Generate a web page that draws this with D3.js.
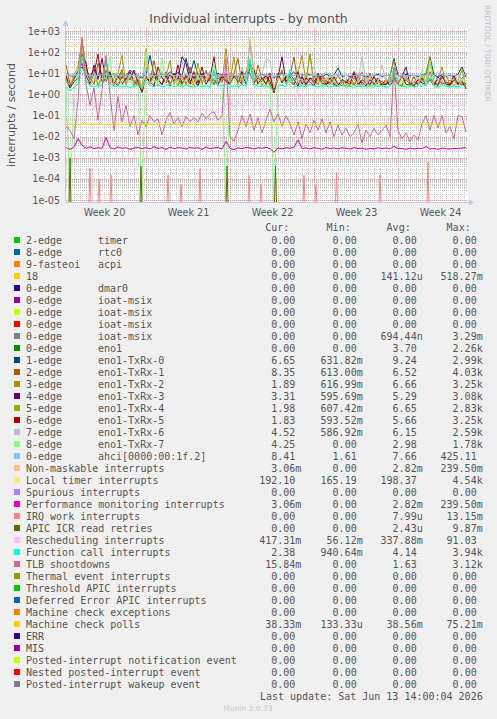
<!DOCTYPE html>
<html><head><meta charset="utf-8">
<script src="https://cdn.jsdelivr.net/npm/d3@7"></script>
<style>
html,body{margin:0;padding:0;background:#f0f0f0;}
svg{display:block;}
</style></head><body>
<svg id="chart" width="497" height="719"></svg>
<script>
// ---------- DATA (8-hour steps from 2026-05-11 08:00 UTC) ----------
const startUTC = Date.UTC(2026, 4, 11, 8);
const stepHours = 8;

const tx0 = [7.5,8,6.5,12,20,8,7,15,7,8.5, 12,7,10,6.5,9,7.5,14,10,7,6, 9,70,8,7.5,10,7,12,8,11,7.5,
  50,9,40,8,7,12,7,8,10,7.5, 9,7,8.5,6.5,12,7,20,8,7.5,9, 7,10,6,8.5,10,7,8,12,7,8.5,
  7.5,9,7,8,6.5,9,7.5,8,18,7, 8,7,9,7.5,8,6.5,8,7.5,9,7, 8,7.5,50,8,7,9,7.5,8,7,8.5,
  9,60,8,7,8.5,7.5,8,7,9,20, 6.65];
const tx1 = [25,3,5,12,100,15,6,3,30,8, 4,10,2.5,6,15,3,8,2.8,5,1.5, 6,4,40,5,2.8,12,3,7,2.5,9,
  3,20,5,2.5,8,3,12,2.8,6,4, 8,3,10,50,3,7,30,2.8,25,5, 9,2.5,1.2,6,12,3.5,8,60,3,7,
  2.5,6,5,3,9,4,3,6,3.5,2.5, 5,4,2.8,7,3,3.5,10,3,5,4, 3,6,8,3,2.5,5,3,7,2.8,5,
  3,12,3.5,2.5,6,8,3,4.5,2.8,6, 8.35];
const tx2 = [6,2,8,20,400,20,5,12,2.5,8, 15,3,6,10,70,3,9,2.5,5,1.5, 8,3,12,5,3,7,40,3,9,2.5,
  6,10,2.5,8,3,14,4,3,9,3.5, 150,4,60,3,10,4,300,12,3,6, 3,9,1.5,5,15,3,7,3,10,70,
  4,80,3,5,8,3,6,2.5,9,3, 2.5,7,3,4,12,3,2.5,6,4,3, 2.8,8,40,3,2.5,6,4,2.8,5,4,
  9,60,3,5,20,3,2.5,7,3,5, 1.89];
const tx3 = [4,2.5,6,12,30,8,3,25,5,50, 5,9,4,2.5,7,5,12,4,2.8,1.5, 6,4,9,5,3,8,2.5,10,5,60,
  30,4,7,2.5,10,3.5,6,5,2.8,9, 4,3,7,5,3,12,10,3.5,6,4, 8,4,1.5,6,60,4,9,5,2.5,7,
  3,6,3.5,10,5,3,4,7,2.8,4, 3.5,6,8,3,4,2.5,5,3,6,2.8, 3,4,5,3.5,7,20,3,2.5,5,3.5,
  3,6,3.5,3,8,3,2.8,5,3.5,3, 3.31];
const tx4 = [5,2,7,10,300,15,3,9,2.5,6, 40,5,8,2.5,12,3,6,2.8,9,1.5, 150,3.5,7,4,12,5,3,8,4,2.8,
  9,4,2.5,30,3.5,7,4,12,3,6, 6,3,9,3.5,5,12,40,4,8,2.5, 6,3,1.2,7,4,10,5,3.5,8,4,
  5,80,3.5,6,3,4,9,3.5,3,5, 3,2.5,6,3,2.8,3.5,7,2.5,4,3, 3.5,5,6,2.8,3,8,2.5,3,3.5,8,
  4,40,3,6,4,3,5,2.5,4,15, 1.98];
const tx5 = [8,2,4,6,80,30,3,10,80,4, 5,12,2.5,8,3,6,5,14,3.5,1.2, 7,4,2.5,20,6,3.5,9,4,25,3,
  8,3,12,3.5,20,3,6,60,3,7, 5,3,8,4,12,3,20,15,3,6, 3,9,1.2,10,3.5,7,4,2.8,12,3,
  6,4,2.5,8,3.5,2.8,6,3,2.5,5, 4,3,12,3,5,3.5,3,7,2.8,3, 5,2.5,5,3,8,3,2.8,4,3,6,
  3,5,2.5,7,3,4,2.8,8,3,4, 1.83];
const tx6 = [4,3,9,8,150,10,4,12,3.5,6, 6,4,10,5,4,8,3.5,5,9,2, 5,8,4.5,3.5,12,4,6,3.5,9,5,
  4,10,3.5,5,7,3.5,12,4,5,3.5, 6,4,9,4.5,20,4,400,8,4.5,10, 50,40,2,6,5,9,4,3.5,7,4,
  4.5,8,20,4,3.5,6,4,9,3.5,4, 4.5,6,5,3.5,60,4,7,3.5,4,25, 4,6,4.5,3.5,8,5,4,3.5,6,4,
  5,8,4,6,3.5,4,7,4,4.5,5, 4.52];
const tx7 = [2.5,0,2,6,60,4,2.5,8,2,3, 5,60,2.5,6,3,2.2,9,2,3,0, 100,3,6,2.5,50,2.8,2,7,2.2,3,
  5,2,2.8,8,2.5,3,2,30,2.5,2.2, 0,3,6,2,3,9,20,2.2,2.8,5, 2,2.5,0,2.2,6,10,2.5,2,5,2.2,
  2.5,3,2.2,4,2.5,2.8,2.2,5,2.5,3, 2.2,2.5,2,2.8,2.2,4,2,2.2,3,2.5, 2,2.5,3,2.2,5,2,2.8,2.2,2.5,15,
  2.5,40,2.2,2,3,2.5,2.2,2.5,2,6, 4.25];
const ahci = [8,7.5,8.5,9,12,8,7.5,8.2,7.8,8.5, 9,7.8,8.2,7.5,8,8.5,7.6,8.2,7.8,7, 15,8,7.6,8.3,7.8,8,8.6,7.5,8.2,7.8,
  8.4,7.7,8,8.5,7.6,8.2,12,7.8,8.3,7.6, 8,7.8,8.4,7.5,8.1,7.8,9,8.2,7.6,8.4, 7.8,8.2,7,8,8.5,7.7,8.2,7.9,8.4,7.6,
  8.1,7.8,8.3,7.5,8,12,7.8,8.2,7.6,8.3, 7.8,8.1,7.6,8.4,7.9,8,7.6,8.3,7.8,8.1, 7.7,8.2,8.8,7.9,8.2,7.6,8.3,7.8,8.1,7.7,
  8.2,9,7.8,12,8,7.7,8.3,7.9,8.1,8.5, 8.41];
const localTimer = [196,194,198,230,500,210,197,195,199,196, 200,197,195,198,196,199,197,195,198,200,
  215,198,196,199,197,195,198,196,199,197, 195,198,196,199,197,195,197,199,196,198,
  205,197,199,196,198,200,500,205,198,196, 199,197,195,198,196,199,197,195,198,196,
  199,197,195,198,196,199,197,195,198,196, 198,196,199,197,195,198,196,199,197,195,
  198,196,199,197,195,198,196,199,197,195, 198,196,210,197,195,198,196,199,197,194, 192.1];
const perfMon = [0.003,0.0025,0.0032,0.008,0.004,0.0028,0.0033,0.0027,0.003,0.0028,
  0.009,0.003,0.0026,0.0032,0.0028,0.003,0.0025,0.0029,0.0031,0.0027,
  0.003,0.0026,0.0033,0.0028,0.003,0.0025,0.0032,0.0027,0.003,0.0029,
  0.0026,0.0031,0.0028,0.003,0.0025,0.0032,0.0027,0.0029,0.003,0.0026,
  0.006,0.0028,0.0024,0.003,0.0027,0.0031,0.0029,0.0026,0.003,0.0028,
  0.0031,0.0027,0.0018,0.0029,0.0026,0.003,0.0028,0.0032,0.007,0.0027,
  0.0029,0.0026,0.003,0.0028,0.0025,0.0031,0.0027,0.0029,0.0026,0.003,
  0.0028,0.0026,0.003,0.0027,0.0029,0.0025,0.0028,0.0026,0.003,0.0027,
  0.0029,0.0026,0.0035,0.0027,0.0028,0.0025,0.0029,0.0026,0.0028,0.0027,
  0.0034,0.0026,0.0028,0.0025,0.0029,0.0027,0.0026,0.0028,0.0027,0.0029, 0.00306];
const nmi = perfMon; // identical statistics to performance monitoring interrupts
const resched = [0.3,0.45,0.22,0.4,0.6,0.25,0.5,0.2,0.45,0.25, 0.55,0.3,0.4,0.22,0.5,0.25,0.45,0.3,0.5,0.2,
  0.45,0.25,0.55,0.3,0.45,0.2,0.5,0.28,0.42,0.25, 0.5,0.3,0.4,0.2,0.22,0.15,0.2,0.13,0.18,0.14,
  0.3,0.5,0.25,0.45,0.22,0.5,0.6,0.25,0.45,0.2, 0.5,0.28,0.4,0.22,0.5,0.25,0.45,0.3,2,0.25,
  0.5,0.22,0.45,0.3,0.5,0.2,0.42,0.28,0.5,0.22, 0.45,0.25,0.5,0.3,0.4,0.2,0.5,0.25,0.45,0.28,
  0.5,0.22,0.45,0.3,0.5,0.25,0.42,0.2,0.5,0.28, 0.45,0.25,0.5,0.22,0.45,0.3,0.5,0.25,0.45,0.3, 0.417];
const funcCall = [2.3,1.5,2.2,3,60,5,2.5,2.2,2.8,2.4, 40,3,2.3,2.6,2.2,2.5,2.1,2.4,2.7,1.8,
  5,2.5,2.3,2.8,2.2,2.5,3,2.3,2.6,2.2, 2.8,2.4,2.2,2.6,2.3,2.5,2.2,15,2.4,2.6,
  3,2.2,2.5,2.3,2.8,2.4,50,3,2.5,2.3, 2.6,2.2,1.5,2.4,2.7,2.3,15,2.5,2.2,2.6,
  2.3,3,2.5,2.2,2.6,2.4,2.2,2.5,2.3,2.8, 2.2,2.4,2.6,2.3,2.5,2.2,2.4,2.7,2.3,2.5,
  2.2,2.6,20,2.8,2.4,2.3,2.6,2.2,2.5,2.4, 2.7,6,2.5,2.3,2.6,2.4,2.2,2.5,2.3,2.6, 2.38];
const tlb = [0.03,0.02,0.008,0.5,500,3,0.3,2,0.06,1.5, 70,1,0.02,0.8,0.05,0.3,0.03,0.1,0.012,0.06,
  0.03,0.1,0.05,0.07,0.012,0.06,0.14,0.04,0.08,0.03, 0.09,0.05,0.08,0.05,0.13,0.07,0.12,0.15,0.06,0.09,
  50,0.01,0.006,0.02,0.1,0.03,0.12,0.02,0.08,0.015, 0.06,0.2,0.05,0.12,0.03,0.1,0.04,0.012,0.05,0.008,
  0.04,0.015,0.06,0.02,0.07,0.015,0.05,0.01,0.035,0.012, 0.025,0.01,0.015,0.04,0.005,0.02,0.01,0.025,0.012,0.02,
  0.035,0.01,18,0.02,0.008,0.015,0.006,0.012,0.007,0.04, 0.1,0.02,0.1,0.025,0.1,0.015,0.03,0.008,0.1,0.09, 0.016];
const mcPolls = [0.0386,0.0385,0.0387,0.0386,0.0388,0.0386,0.0385,0.0386,0.0387,0.0385,
  0.0386,0.0387,0.0385,0.0386,0.0386,0.0385,0.0387,0.0386,0.0385,0.0384,
  0.0386,0.0387,0.0385,0.0386,0.0385,0.0387,0.0386,0.0386,0.0385,0.0387,
  0.0386,0.0385,0.0386,0.0387,0.0385,0.0386,0.0386,0.0387,0.0385,0.0386,
  0.0385,0.0386,0.0387,0.0385,0.0386,0.0386,0.0388,0.0385,0.0386,0.0387,
  0.0385,0.0386,0.0384,0.0386,0.0387,0.0385,0.0386,0.0386,0.0385,0.0387,
  0.0386,0.0385,0.0386,0.0387,0.0385,0.0386,0.0386,0.0385,0.0387,0.0386,
  0.0385,0.0386,0.0387,0.0386,0.0385,0.0386,0.0387,0.0385,0.0386,0.0386,
  0.0385,0.0387,0.0386,0.0385,0.0386,0.0387,0.0386,0.0385,0.0386,0.0386,
  0.0387,0.0385,0.0386,0.0386,0.0385,0.0387,0.0386,0.0385,0.0386,0.0384, 0.03833];
// sparse events: [hours after start, value]; zero elsewhere
const irqWorkSpikes = [[48,3.2e-4],[66,1e-4],[90,1.5e-4],[204,1.5e-4],[230,5.5e-5],[268,3e-4],[366,1.5e-4],
  [390,5.5e-5],[476,1.5e-4],[500,5.5e-5],[541,2e-4],[628,1.5e-4],[724,6e-4]];
const apicSpikes = [[8,1e-3],[150,4e-4],[322,4e-4],[419,4e-4]];

// legend
const labels = ["2-edge","8-edge","9-fasteoi","18","0-edge","0-edge","0-edge","0-edge","0-edge","0-edge",
  "1-edge","2-edge","3-edge","4-edge","5-edge","6-edge","7-edge","8-edge","0-edge",
  "Non-maskable interrupts","Local timer interrupts","Spurious interrupts","Performance monitoring interrupts",
  "IRQ work interrupts","APIC ICR read retries","Rescheduling interrupts","Function call interrupts",
  "TLB shootdowns","Thermal event interrupts","Threshold APIC interrupts","Deferred Error APIC interrupts",
  "Machine check exceptions","Machine check polls","ERR","MIS","Posted-interrupt notification event",
  "Nested posted-interrupt event","Posted-interrupt wakeup event"];
const devices = ["timer","rtc0","acpi","","dmar0","ioat-msix","ioat-msix","ioat-msix","ioat-msix","eno1",
  "eno1-TxRx-0","eno1-TxRx-1","eno1-TxRx-2","eno1-TxRx-3","eno1-TxRx-4","eno1-TxRx-5","eno1-TxRx-6",
  "eno1-TxRx-7","ahci[0000:00:1f.2]"];
const colors = ["#00CC00","#0066B3","#FF8000","#FFCC00","#330099","#990099","#CCFF00","#FF0000","#808080",
  "#008F00","#00487D","#B35A00","#B38F00","#6B006B","#8FB300","#B30000","#BEBEBE","#80FF80","#80C9FF",
  "#FFC080","#FFE680","#AA80FF","#EE00CC","#FF8080","#666600","#FFBFFF","#00FFCC","#CC6699","#999900",
  "#00CC00","#0066B3","#FF8000","#FFCC00","#330099","#990099","#CCFF00","#FF0000","#808080"];
const curVals = ["0.00","0.00","0.00","0.00","0.00","0.00","0.00","0.00","0.00","0.00","6.65","8.35","1.89",
  "3.31","1.98","1.83","4.52","4.25","8.41","3.06m","192.10","0.00","3.06m","0.00","0.00","417.31m","2.38",
  "15.84m","0.00","0.00","0.00","0.00","38.33m","0.00","0.00","0.00","0.00","0.00"];
const minVals = ["0.00","0.00","0.00","0.00","0.00","0.00","0.00","0.00","0.00","0.00","631.82m","613.00m",
  "616.99m","595.69m","607.42m","593.52m","586.92m","0.00","1.61","0.00","165.19","0.00","0.00","0.00","0.00",
  "56.12m","940.64m","0.00","0.00","0.00","0.00","0.00","133.33u","0.00","0.00","0.00","0.00","0.00"];
const avgVals = ["0.00","0.00","0.00","141.12u","0.00","0.00","0.00","0.00","694.44n","3.70","9.24","6.52",
  "6.66","5.29","6.65","5.66","6.15","2.98","7.66","2.82m","198.37","0.00","2.82m","7.99u","2.43u","337.88m",
  "4.14","1.63","0.00","0.00","0.00","0.00","38.56m","0.00","0.00","0.00","0.00","0.00"];
const maxVals = ["0.00","0.00","0.00","518.27m","0.00","0.00","0.00","0.00","3.29m","2.26k","2.99k","4.03k",
  "3.25k","3.08k","2.83k","3.25k","2.59k","1.78k","425.11","239.50m","4.54k","0.00","239.50m","13.15m",
  "9.87m","91.03","3.94k","3.12k","0.00","0.00","0.00","0.00","75.21m","0.00","0.00","0.00","0.00","0.00"];
const yTickValues = [1e-5,1e-4,1e-3,1e-2,1e-1,1e0,1e1,1e2,1e3];

// dense series in legend (draw) order
const dense = {10:tx0,11:tx1,12:tx2,13:tx3,14:tx4,15:tx5,16:tx6,17:tx7,18:ahci,19:nmi,20:localTimer,
  22:perfMon,25:resched,26:funcCall,27:tlb,32:mcPolls};
const sparse = {23:irqWorkSpikes,24:apicSpikes};

// ---------- DRAW ----------
const svg = d3.select("#chart");
const HOUR = 3600e3;
const t0 = new Date(startUTC), t1 = new Date(startUTC + 804*HOUR);
const L = 66, R = 468, T = 28, B = 202.5;
const x = d3.scaleUtc().domain([t0, t1]).range([L, R]);
const y = d3.scaleLog().domain([1e-5, 1e3]).range([200, 31]);
const yv = v => (v <= 0 ? B : Math.min(B, y(v)));

svg.append("rect").attr("x",0).attr("y",0).attr("width",497).attr("height",719).attr("fill","#f0f0f0");
svg.append("rect").attr("x",L).attr("y",T).attr("width",R-L).attr("height",B-T).attr("fill","#ffffff");

// title
svg.append("text").attr("x",248.5).attr("y",23).attr("text-anchor","middle")
  .style("font-family","DejaVu Sans").style("font-size","12.5px").attr("fill","#555").text("Individual interrupts - by month");
// watermark
svg.append("text").attr("transform","translate(485,5) rotate(90)")
  .style("font-family","DejaVu Sans").style("font-size","7.5px").attr("fill","#c4c4c4").text("RRDTOOL / TOBI OETIKER");

const grid = svg.append("g");
const minorY = [];
for (let e = -5; e < 3; e++) for (let k = 2; k <= 9; k++) minorY.push(k*Math.pow(10,e));
grid.selectAll("line.hmin").data(minorY).join("line")
  .attr("x1",L).attr("x2",R).attr("y1",d=>Math.round(y(d))+0.5).attr("y2",d=>Math.round(y(d))+0.5)
  .attr("stroke","#c8c8c8").attr("stroke-dasharray","1,1");
const minorX = d3.utcHour.every(12).range(t0, t1).filter(d => !(d.getUTCDay()===1 && d.getUTCHours()===0));
grid.selectAll("line.vmin").data(minorX).join("line")
  .attr("x1",d=>Math.round(x(d))+0.5).attr("x2",d=>Math.round(x(d))+0.5).attr("y1",T).attr("y2",B)
  .attr("stroke","#c8c8c8").attr("stroke-dasharray","1,1");
grid.selectAll("line.hmaj").data(yTickValues).join("line")
  .attr("x1",L).attr("x2",R).attr("y1",d=>Math.round(y(d))+0.5).attr("y2",d=>Math.round(y(d))+0.5)
  .attr("stroke","#f09090").attr("stroke-dasharray","1,1");
const mondays = d3.utcMonday.range(t0, t1);
grid.selectAll("line.vmaj").data(mondays).join("line")
  .attr("x1",d=>Math.round(x(d))+0.5).attr("x2",d=>Math.round(x(d))+0.5).attr("y1",T).attr("y2",B)
  .attr("stroke","#f09090").attr("stroke-dasharray","1,1");

// series
svg.append("clipPath").attr("id","clip").append("rect").attr("x",L).attr("y",T).attr("width",R-L).attr("height",B-T+0.5);
const plot = svg.append("g").attr("clip-path","url(#clip)");
const times = d3.range(tlb.length).map(i => new Date(startUTC + i*stepHours*HOUR));
const line = d3.line().x(d=>x(d[0])).y(d=>yv(d[1]));
for (let k = 0; k < labels.length; k++) {
  let pts = null;
  if (dense[k]) pts = dense[k].map((v,i)=>[times[i], v]);
  else if (sparse[k]) {
    pts = [[t0,0]];
    sparse[k].forEach(([h,v]) => {
      pts.push([new Date(startUTC+(h-2)*HOUR),0],[new Date(startUTC+h*HOUR),v],[new Date(startUTC+(h+2)*HOUR),0]);
    });
    pts.push([times[times.length-1],0]);
  }
  if (!pts) continue;
  plot.append("path").attr("d", line(pts)).attr("fill","none").attr("stroke",colors[k]).attr("stroke-width",1);
}

// axes
const fmtExp = v => { const e = Math.round(Math.log10(v)); return "1e" + (e<0?"-":"+") + String(Math.abs(e)).padStart(2,"0"); };
const yAxis = svg.append("g").attr("transform",`translate(${L},0)`)
  .call(d3.axisLeft(y).tickValues(yTickValues).tickFormat(fmtExp).tickSize(0).tickPadding(6));
yAxis.select(".domain").remove();
yAxis.selectAll("text").style("font-family","DejaVu Sans").style("font-size","9.6px").attr("fill","#555");

const weekMid = mondays.map(d => new Date(+d - 3.5*24*HOUR)).concat([new Date(+mondays[mondays.length-1] + 3.5*24*HOUR)]);
const xAxis = svg.append("g").attr("transform",`translate(0,${B})`)
  .call(d3.axisBottom(x).tickValues(weekMid).tickFormat(d3.utcFormat("Week %V")).tickSize(0).tickPadding(7));
xAxis.select(".domain").remove();
xAxis.selectAll("text").style("font-family","DejaVu Sans").style("font-size","9.6px").attr("fill","#555");

const axisCol = "#c0c6ee";
svg.append("line").attr("x1",L-0.5).attr("x2",L-0.5).attr("y1",24).attr("y2",B+0.5).attr("stroke",axisCol);
svg.append("line").attr("x1",L-0.5).attr("x2",470).attr("y1",B).attr("y2",B).attr("stroke",axisCol);
svg.append("path").attr("d",`M${L-3.5},26 L${L+2.5},26 L${L-0.5},20 Z`).attr("fill",axisCol);
svg.append("path").attr("d",`M469,${B-3} L469,${B+3} L474,${B} Z`).attr("fill",axisCol);

svg.append("text").attr("transform","translate(15,115) rotate(-90)").attr("text-anchor","middle")
  .style("font-family","DejaVu Sans").style("font-size","11px").attr("fill","#555").text("interrupts / second");

// legend
const lg = svg.append("g").style("font-family","DejaVu Sans Mono").style("font-size","10px").attr("fill","#555");
const colEnds = [301.3, 362.7, 422.7, 482.7];
["Cur:","Min:","Avg:","Max:"].forEach((h,j)=>{
  lg.append("text").attr("x",colEnds[j]-12).attr("y",231).attr("text-anchor","end").text(h);
});
const placeVal = (s, xe, yb) => {
  const hasSuf = /[a-zA-Z]$/.test(s);
  lg.append("text").attr("x", hasSuf ? xe : xe-6).attr("y",yb).attr("text-anchor","end").text(s);
};
labels.forEach((name,k)=>{
  const cy = 240 + 12*k, yb = cy + 3.6;
  lg.append("rect").attr("x",14).attr("y",cy-3).attr("width",6).attr("height",6).attr("fill",colors[k]);
  lg.append("text").attr("x",26).attr("y",yb).text(name);
  if (devices[k]) lg.append("text").attr("x",98).attr("y",yb).text(devices[k]);
  placeVal(curVals[k], colEnds[0], yb);
  placeVal(minVals[k], colEnds[1], yb);
  placeVal(avgVals[k], colEnds[2], yb);
  placeVal(maxVals[k], colEnds[3], yb);
});
lg.append("text").attr("x",482.7).attr("y",699.5).attr("text-anchor","end").text("Last update: Sat Jun 13 14:00:04 2026");
svg.append("text").attr("x",248).attr("y",711).attr("text-anchor","middle")
  .style("font-family","DejaVu Sans").style("font-size","7.5px").attr("fill","#c8c8c8").text("Munin 2.0.73");
</script></body></html>
